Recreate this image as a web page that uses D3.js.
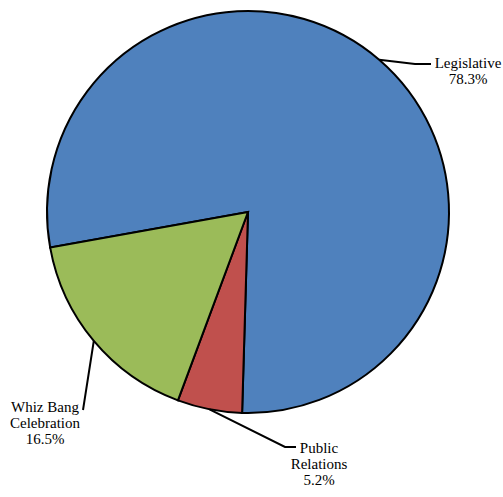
<!DOCTYPE html>
<html>
<head>
<meta charset="utf-8">
<script src="https://cdn.jsdelivr.net/npm/d3@7/dist/d3.min.js"></script>
</head>
<body style="margin:0">
<svg id="chart" width="503" height="497"></svg>
<script>
const categories = ["Legislative", "Public Relations", "Whiz Bang Celebration"];
const values = [78.3, 5.2, 16.5];
const labelLines = [["Legislative", "78.3%"], ["Public", "Relations", "5.2%"], ["Whiz Bang", "Celebration", "16.5%"]];
const colors = ["#4F81BD", "#C0504D", "#9BBB59"];

const W = 503, H = 497;
const cx = 248, cy = 212, R = 201;
const svg = d3.select("#chart");
const g = svg.append("g").attr("transform", `translate(${cx},${cy})`);

const data = categories.map((c, i) => ({cat: c, value: values[i], lines: labelLines[i], color: colors[i]}));
const start = -100.2 * Math.PI / 180;
const pie = d3.pie().value(d => d.value).sort(null).startAngle(start).endAngle(start + 2 * Math.PI);
const arcs = pie(data);
const arc = d3.arc().innerRadius(0).outerRadius(R);

g.selectAll("path.slice").data(arcs).enter().append("path")
  .attr("class", "slice")
  .attr("d", arc)
  .attr("fill", d => d.data.color)
  .attr("stroke", "#000")
  .attr("stroke-width", 2)
  .attr("stroke-linejoin", "miter");

const layout = [
  {elbow: [415, 64], end: [431, 64], tx: 468, ty: 68},
  {elbow: [285, 447], end: [296, 447], tx: 319, ty: 453},
  {elbow: [83, 410], end: [83, 410], tx: 45, ty: 412}
];
const lh = 16;

arcs.forEach((a, i) => {
  const mid = (a.startAngle + a.endAngle) / 2;
  const px = cx + R * Math.sin(mid), py = cy - R * Math.cos(mid);
  const L = layout[i];
  svg.append("polyline")
    .attr("points", [[px, py], L.elbow, L.end].map(p => p.join(",")).join(" "))
    .attr("fill", "none").attr("stroke", "#000").attr("stroke-width", 2);
  a.data.lines.forEach((ln, j) => {
    svg.append("text")
      .attr("x", L.tx).attr("y", L.ty + j * lh)
      .attr("text-anchor", "middle")
      .style("font-family", "'Liberation Serif', Tinos, 'Nimbus Roman', 'Times New Roman', serif")
      .style("font-size", "15px")
      .text(ln);
  });
});
</script>
</body>
</html>
